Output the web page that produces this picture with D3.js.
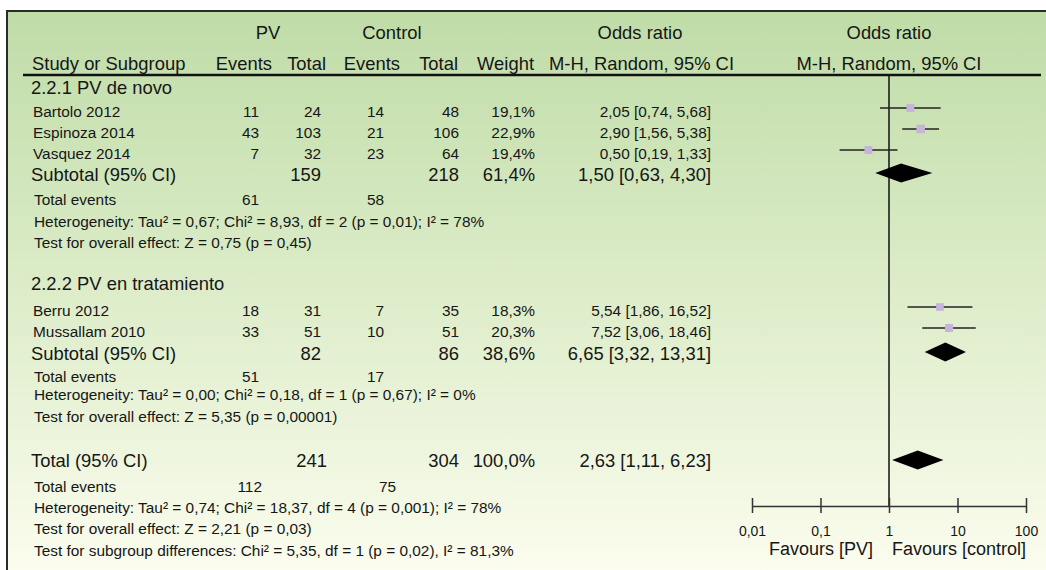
<!DOCTYPE html>
<html>
<head>
<meta charset="utf-8">
<script src="https://cdn.jsdelivr.net/npm/d3@7"></script>
<style>
  body { margin: 0; background: #fff; }
  text { font-family: "Liberation Sans", Arial, sans-serif; fill: #161616; }
</style>
</head>
<body>
<div id="chart"></div>
<script>
// study level data
const studies    = ['Bartolo 2012', 'Espinoza 2014', 'Vasquez 2014', 'Berru 2012', 'Mussallam 2010']
const studyGroup = [0, 0, 0, 1, 1]
const pvEvents   = [11, 43, 7, 18, 33]
const pvTotal    = [24, 103, 32, 31, 51]
const ctrlEvents = [14, 21, 23, 7, 10]
const ctrlTotal  = [48, 106, 64, 35, 51]
const weights    = [19.1, 22.9, 19.4, 18.3, 20.3]
const orEst      = [2.05, 2.90, 0.50, 5.54, 7.52]
const orLow      = [0.74, 1.56, 0.19, 1.86, 3.06]
const orHigh     = [5.68, 5.38, 1.33, 16.52, 18.46]

// subgroup data
const groupNames      = ['2.2.1 PV de novo', '2.2.2 PV en tratamiento']
const groupPvTotal    = [159, 82]
const groupCtrlTotal  = [218, 86]
const groupWeight     = [61.4, 38.6]
const groupOr         = [1.50, 6.65]
const groupLow        = [0.63, 3.32]
const groupHigh       = [4.30, 13.31]
const groupPvEvents   = [61, 51]
const groupCtrlEvents = [58, 17]
const groupHet    = ['Heterogeneity: Tau² = 0,67; Chi² = 8,93, df = 2 (p = 0,01); I² = 78%',
                     'Heterogeneity: Tau² = 0,00; Chi² = 0,18, df = 1 (p = 0,67); I² = 0%']
const groupEffect = ['Test for overall effect: Z = 0,75 (p = 0,45)',
                     'Test for overall effect: Z = 5,35 (p = 0,00001)']

// overall
const totalPv = 241, totalCtrl = 304, totalWeight = 100.0
const totalOr = 2.63, totalLow = 1.11, totalHigh = 6.23
const totalPvEvents = 112, totalCtrlEvents = 75
const totalHet = 'Heterogeneity: Tau² = 0,74; Chi² = 18,37, df = 4 (p = 0,001); I² = 78%'
const totalEffect = 'Test for overall effect: Z = 2,21 (p = 0,03)'
const subgroupDiff = 'Test for subgroup differences: Chi² = 5,35, df = 1 (p = 0,02), I² = 81,3%'

// axis
const axisTicks = [0.01, 0.1, 1, 10, 100]
const axisLabels = ['0,01', '0,1', '1', '10', '100']

const W = 1046, H = 570
const big = 18.4, small = 15.4

const locale = d3.formatLocale({ decimal: ',', thousands: '.', grouping: [3], currency: ['', ''] })
const f2 = locale.format('.2f')
const f1 = locale.format('.1f')
const orLabel = (e, l, h) => `${f2(e)} [${f2(l)}, ${f2(h)}]`

const svg = d3.select('#chart').append('svg')
  .attr('width', W)
  .attr('height', H)

const grad = svg.append('defs').append('linearGradient')
  .attr('id', 'bg')
  .attr('x1', 0).attr('y1', 0).attr('x2', 0).attr('y2', 1)
grad.append('stop').attr('offset', '0%').attr('stop-color', '#bfdca7')
grad.append('stop').attr('offset', '48%').attr('stop-color', '#dcecc8')
grad.append('stop').attr('offset', '100%').attr('stop-color', '#fcfdef')

// frame runs off the right and bottom of the picture
svg.append('rect')
  .attr('x', 7).attr('y', 11)
  .attr('width', W + 10).attr('height', H)
  .attr('fill', 'url(#bg)')
  .attr('stroke', '#2a2a2a')
  .attr('stroke-width', 2)

// column anchors (right aligned numbers)
const col = { name: 31, pvEv: 259, pvTot: 321, ctEv: 384, ctTot: 459, weight: 535, or: 711 }

const x = d3.scaleLog().domain([0.01, 100]).range([752, 1026])
const side = d3.scaleSqrt().domain([0, d3.max(weights)]).range([0, 8.6])

const txt = (t, xx, yy, size, anchor = 'start') =>
  svg.append('text')
    .attr('x', xx).attr('y', yy)
    .attr('font-size', size)
    .attr('text-anchor', anchor)
    .text(t)

// header
txt('PV', 268, 39, big, 'middle')
txt('Control', 392, 39, big, 'middle')
txt('Odds ratio', 640, 39, big, 'middle')
txt('Odds ratio', 889, 39, big, 'middle')
txt('Study or Subgroup', col.name + 1, 70, big)
txt('Events', 272, 70, big, 'end')
txt('Total', 326, 70, big, 'end')
txt('Events', 400, 70, big, 'end')
txt('Total', 458, 70, big, 'end')
txt('Weight', 534, 70, big, 'end')
txt('M-H, Random, 95% CI', 734, 70, big, 'end')
txt('M-H, Random, 95% CI', 889, 70, big, 'middle')

svg.append('line')
  .attr('x1', 23).attr('x2', 1041)
  .attr('y1', 75).attr('y2', 75)
  .attr('stroke', '#111')
  .attr('stroke-width', 2.5)

// null line
svg.append('line')
  .attr('x1', x(1)).attr('x2', x(1))
  .attr('y1', 75).attr('y2', 506)
  .attr('stroke', '#111')
  .attr('stroke-width', 1.5)

const marks = svg.append('g')

const drawStudy = (i, y) => {
  txt(studies[i], col.name + 2, y, small)
  txt(pvEvents[i], col.pvEv, y, small, 'end')
  txt(pvTotal[i], col.pvTot, y, small, 'end')
  txt(ctrlEvents[i], col.ctEv, y, small, 'end')
  txt(ctrlTotal[i], col.ctTot, y, small, 'end')
  txt(f1(weights[i]) + '%', col.weight, y, small, 'end')
  txt(orLabel(orEst[i], orLow[i], orHigh[i]), col.or, y, small, 'end')

  const cy = y - 9
  marks.append('line')
    .attr('x1', x(orLow[i])).attr('x2', x(orHigh[i]))
    .attr('y1', cy).attr('y2', cy)
    .attr('stroke', '#222')
    .attr('stroke-width', 1.5)
  const s = side(weights[i])
  marks.append('rect')
    .attr('x', x(orEst[i]) - s / 2).attr('y', cy - s / 2)
    .attr('width', s).attr('height', s)
    .attr('fill', '#c6b4da')
}

const diamond = (e, l, h, cy) => {
  marks.append('path')
    .attr('d', `M${x(l)},${cy} L${x(e)},${cy - 9.5} L${x(h)},${cy} L${x(e)},${cy + 9.5} Z`)
    .attr('fill', '#000')
}

// vertical advances for each line of the table
const steps = {
  group: [94, 290],
  study: [[23, 21, 21], [26, 21]],
  subtotal: [22, 23],
  events: [24, 22],
  het: [22, 18],
  effect: [21, 22]
}

groupNames.forEach((g, gi) => {
  let y = steps.group[gi]
  txt(g, col.name, y, big)
  const idx = d3.range(studies.length).filter(i => studyGroup[i] === gi)
  idx.forEach((i, k) => {
    y += steps.study[gi][k]
    drawStudy(i, y)
  })
  y += steps.subtotal[gi]
  txt('Subtotal (95% CI)', col.name, y, big)
  txt(groupPvTotal[gi], col.pvTot, y, big, 'end')
  txt(groupCtrlTotal[gi], col.ctTot, y, big, 'end')
  txt(f1(groupWeight[gi]) + '%', col.weight, y, big, 'end')
  txt(orLabel(groupOr[gi], groupLow[gi], groupHigh[gi]), col.or, y, big, 'end')
  diamond(groupOr[gi], groupLow[gi], groupHigh[gi], y - 8)

  y += steps.events[gi]
  txt('Total events', col.name + 3, y, small)
  txt(groupPvEvents[gi], col.pvEv, y, small, 'end')
  txt(groupCtrlEvents[gi], col.ctEv, y, small, 'end')
  y += steps.het[gi]
  txt(groupHet[gi], col.name + 3, y, small)
  y += steps.effect[gi]
  txt(groupEffect[gi], col.name + 3, y, small)
})

// overall
let ty = 467
txt('Total (95% CI)', col.name, ty, big)
txt(totalPv, col.pvTot + 6, ty, big, 'end')
txt(totalCtrl, col.ctTot, ty, big, 'end')
txt(f1(totalWeight) + '%', col.weight, ty, big, 'end')
txt(orLabel(totalOr, totalLow, totalHigh), col.or, ty, big, 'end')
diamond(totalOr, totalLow, totalHigh, ty - 7)

ty += 25
txt('Total events', col.name + 3, ty, small)
txt(totalPvEvents, col.pvEv + 3, ty, small, 'end')
txt(totalCtrlEvents, col.ctEv + 12, ty, small, 'end')
ty += 21
txt(totalHet, col.name + 3, ty, small)
ty += 21
txt(totalEffect, col.name + 3, ty, small)
ty += 22
txt(subgroupDiff, col.name + 3, ty, small)

// forest axis
const axis = d3.axisBottom(x)
  .tickValues(axisTicks)
  .tickFormat((d, i) => axisLabels[i])
  .tickSizeOuter(0)
  .tickSizeInner(7)
  .tickPadding(13)

const ag = svg.append('g')
  .attr('transform', 'translate(0,506)')
  .call(axis)
ag.select('.domain').attr('stroke', '#333').attr('stroke-width', 1.5)
ag.selectAll('.tick line')
  .attr('y1', -8).attr('y2', 7)
  .attr('stroke', '#333').attr('stroke-width', 1.5)
ag.selectAll('.tick text')
  .attr('font-size', 14)
  .attr('font-family', '"Liberation Sans", Arial, sans-serif')
  .attr('fill', '#161616')

txt('Favours [PV]', 873, 555, 18, 'end')
txt('Favours [control]', 1026, 555, 18, 'end')
</script>
</body>
</html>
